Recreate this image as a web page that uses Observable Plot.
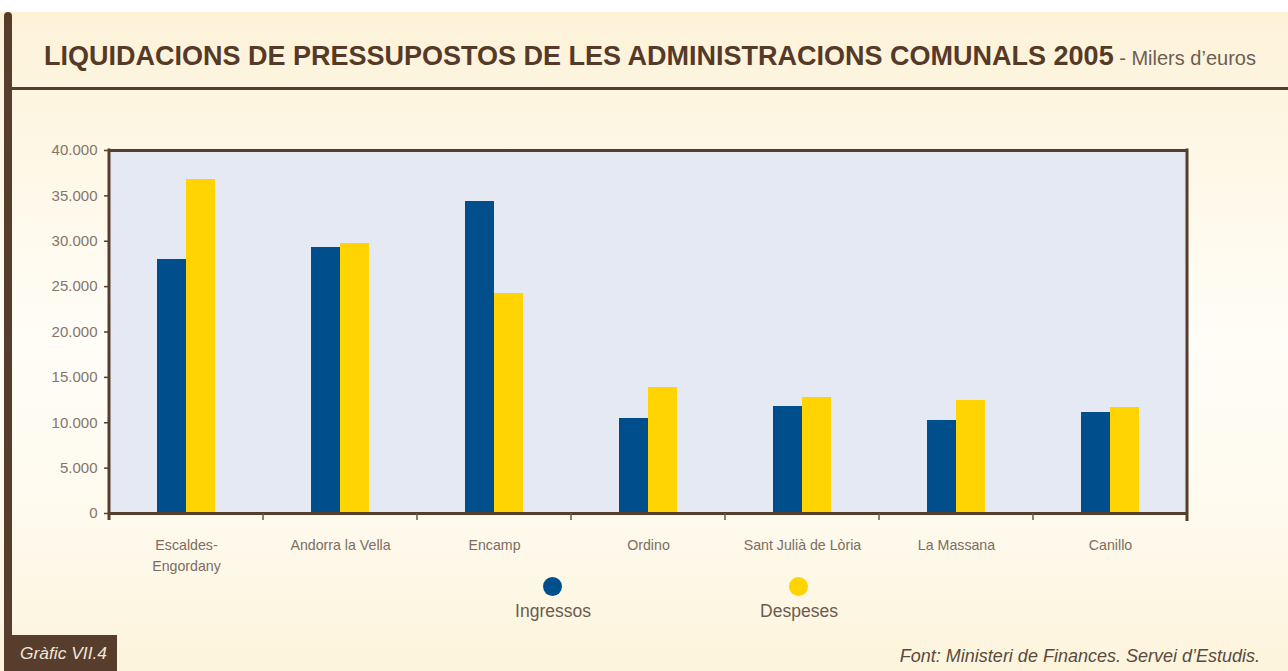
<!DOCTYPE html>
<html>
<head>
<meta charset="utf-8">
<script src="https://cdn.jsdelivr.net/npm/d3@7"></script>
<script src="https://cdn.jsdelivr.net/npm/@observablehq/plot@0.6"></script>
<style>
  html, body { margin: 0; padding: 0; background: #ffffff; }
  #page { position: relative; width: 1288px; height: 671px; overflow: hidden; background: #ffffff; }
  #panel { position: absolute; left: 0; top: 12px; width: 1288px; height: 659px;
    background: linear-gradient(to bottom, #fdf2d8 0%, #fef8e8 25%, #fffdf7 50%, #fefaee 75%, #fdf4dc 100%); }
  #leftbar { position: absolute; left: 4px; top: 12px; width: 7.5px; height: 630px; background: #573d2b; border-radius: 4px 4px 0 0; }
  #titleline { position: absolute; left: 11px; top: 87px; width: 1277px; height: 3px; background: #573d2b; }
  #title { position: absolute; left: 44px; top: 41px; white-space: nowrap; font-family: "Liberation Sans", Arial, sans-serif; line-height: 31px; }
  #title b { font-size: 27px; font-weight: bold; color: #553a28; }
  #title span { font-size: 20px; color: #6e5e53; }
  #chart { position: absolute; left: 0; top: 100px; }
  .leg { position: absolute; font-family: "Liberation Sans", Arial, sans-serif; font-size: 17.5px; color: #6b5b50; text-align: center; width: 160px; }
  .dot { position: absolute; width: 19px; height: 19px; border-radius: 50%; }
  #caption { position: absolute; right: 28px; top: 646px; font-family: "Liberation Sans", Arial, sans-serif; font-style: italic; font-size: 18px; color: #5a4a3e; }
  #gbox { position: absolute; left: 4px; top: 635px; width: 113px; height: 36px; background: #573d2b; }
  #gbox span { position: absolute; left: 16px; top: 8px; font-family: "Liberation Sans", Arial, sans-serif; font-style: italic; font-size: 17.4px; color: #efe6dc; }
</style>
</head>
<body>
<div id="page">
  <div id="panel"></div>
  <div id="leftbar"></div>
  <div id="titleline"></div>
  <div id="title"><b>LIQUIDACIONS DE PRESSUPOSTOS DE LES ADMINISTRACIONS COMUNALS 2005</b><span> - Milers d’euros</span></div>
  <div id="chart"></div>
  <div id="legend"></div>
  <div id="caption">Font: Ministeri de Finances. Servei d’Estudis.</div>
  <div id="gbox"><span>Gràfic VII.4</span></div>
</div>
<script>
// ---- data ----
const categories = ["Escaldes-\nEngordany", "Andorra la Vella", "Encamp", "Ordino", "Sant Julià de Lòria", "La Massana", "Canillo"];
const series = ["Ingressos", "Despeses"];
const ingressos = [28000, 29350, 34400, 10500, 11800, 10300, 11150];
const despeses = [36750, 29700, 24200, 13900, 12800, 12500, 11700];
const yTicks = [0, 5000, 10000, 15000, 20000, 25000, 30000, 35000, 40000];
const colors = ["#004e8c", "#ffd400"];

const rows = [];
categories.forEach((c, i) => {
  rows.push({cat: c, serie: series[0], value: ingressos[i]});
  rows.push({cat: c, serie: series[1], value: despeses[i]});
});

const brown = "#573d2b";
const fmt = d => d3.format(",")(d).replace(/,/g, ".");
const labelFont = '"Liberation Sans", Arial, sans-serif';

const plot = Plot.plot({
  width: 1288,
  height: 483,
  marginLeft: 107,
  marginRight: 99,
  marginTop: 50,
  marginBottom: 70,
  style: {background: "transparent", fontFamily: labelFont, fontSize: "14px", color: "#7d6d62"},
  fx: {domain: categories, padding: 0, axis: null},
  x: {domain: series, paddingInner: 0, paddingOuter: 1.58, axis: null},
  y: {domain: [0, 40000], axis: null},
  color: {domain: series, range: colors},
  marks: [
    Plot.frame({fill: "#e5e9f4", stroke: null, shapeRendering: "crispEdges"}),
    Plot.barY(rows, {fx: "cat", x: "serie", y: "value", fill: "serie", shapeRendering: "crispEdges"}),
    Plot.ruleY([0], {stroke: brown, strokeWidth: 3}),
    Plot.ruleY([40000], {stroke: brown, strokeWidth: 3}),
    Plot.axisY({ticks: yTicks, tickFormat: fmt, tickSize: 5, tickPadding: 7, stroke: brown, strokeWidth: 1.5, label: null, fill: "#85756a", fontSize: 15}),
    Plot.axisFx({anchor: "bottom", tickSize: 0, tickPadding: 22, label: null, fill: "#7d6d62", fontSize: 14.2, lineHeight: 1.45})
  ]
});
document.getElementById("chart").appendChild(plot);

// frame sides and category-boundary ticks through the plot's own scales
const fx = plot.scale("fx"), y = plot.scale("y");
const svg = d3.select(plot);
const y0 = y.apply(0), y1 = y.apply(40000);
const bounds = categories.map(c => fx.apply(c)).concat([fx.apply(categories[categories.length - 1]) + fx.bandwidth]);
const g = svg.append("g");
g.selectAll("line.b").data(bounds.slice(1, -1)).join("line")
  .attr("x1", d => d).attr("x2", d => d).attr("y1", y0).attr("y2", y0 + 7)
  .attr("stroke", "#6a5444").attr("stroke-width", 1.5);
g.append("line").attr("x1", bounds[0]).attr("x2", bounds[0]).attr("y1", y1 - 1.5).attr("y2", y0 + 7)
  .attr("stroke", brown).attr("stroke-width", 3);
g.append("line").attr("x1", bounds[bounds.length - 1]).attr("x2", bounds[bounds.length - 1]).attr("y1", y1 - 1.5).attr("y2", y0 + 8)
  .attr("stroke", brown).attr("stroke-width", 3);

// legend
const legend = document.getElementById("legend");
const legPos = [552, 798];
series.forEach((s, i) => {
  const dot = document.createElement("div");
  dot.className = "dot";
  dot.style.background = colors[i];
  dot.style.left = (legPos[i] - 9.5) + "px";
  dot.style.top = (586 - 9.5) + "px";
  legend.appendChild(dot);
  const t = document.createElement("div");
  t.className = "leg";
  t.textContent = s;
  t.style.left = (legPos[i] + 1 - 80) + "px";
  t.style.top = "601px";
  legend.appendChild(t);
});
</script>
</body>
</html>
